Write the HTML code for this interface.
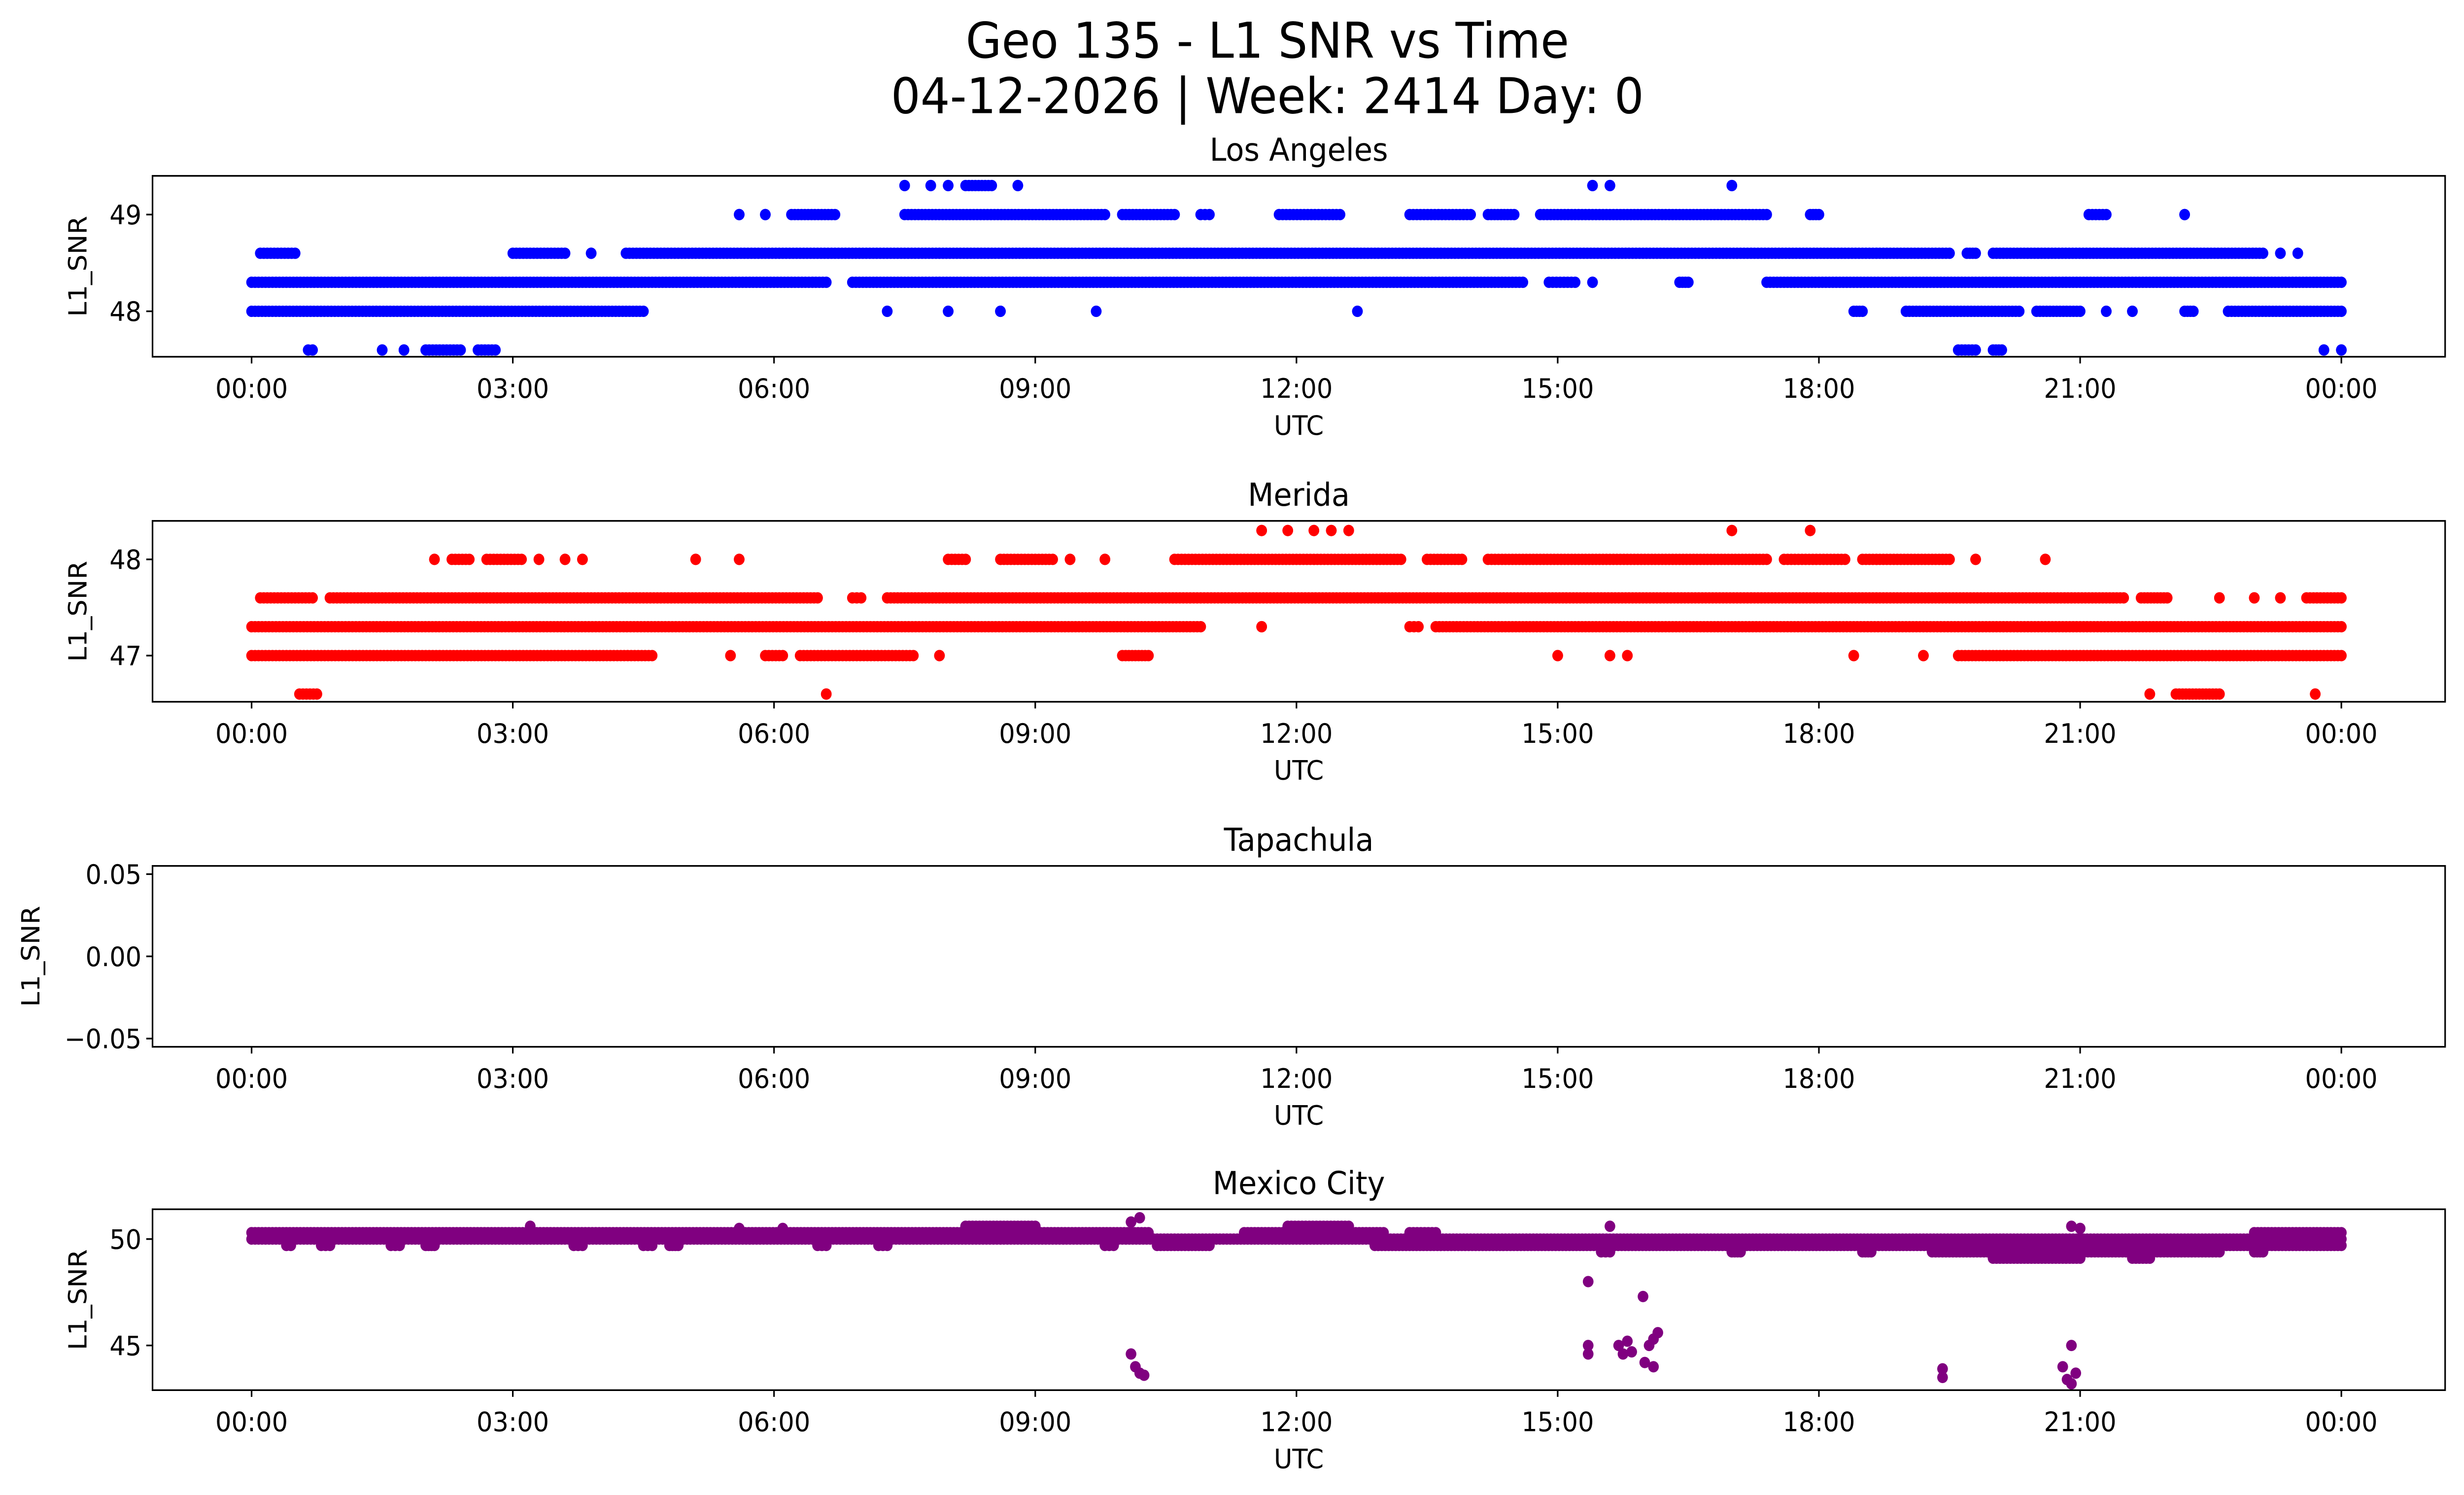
<!DOCTYPE html>
<html><head><meta charset="utf-8">
<style>html,body{margin:0;padding:0;background:#fff;width:100%;height:100%;overflow:hidden}svg{display:block;width:100vw;height:100vh}text{font-family:"DejaVu Sans","Liberation Sans",sans-serif;fill:#000}</style>
</head><body>
<svg id="fig" xmlns="http://www.w3.org/2000/svg" viewBox="0 0 1567 892.6" preserveAspectRatio="none">
<rect x="0" y="0" width="1567" height="892.6" fill="#fff"/>
<text x="806" y="34.4" font-size="29.5" text-anchor="middle">Geo 135 - L1 SNR vs Time</text>
<text x="806" y="67.5" font-size="29.5" text-anchor="middle">04-12-2026 | Week: 2414 Day: 0</text>
</svg>
<script>
// ---- data (hours UTC) ----
const xTickLabels = ["00:00","03:00","06:00","09:00","12:00","15:00","18:00","21:00","00:00"];
const xTickHours = [0,3,6,9,12,15,18,21,24];

const laLevels = [49.3,49.0,48.6,48.3,48.0,47.6];
const la493 = [[7.5,7.5],[7.8,7.8],[8.0,8.0],[8.2,8.5],[8.8,8.8],[15.4,15.4],[15.6,15.6],[17.0,17.0]];
const la490 = [[5.6,5.6],[5.9,5.9],[6.2,6.7],[7.5,9.8],[10.0,10.6],[10.9,11.0],[11.8,12.5],[13.3,14.0],[14.2,14.5],[14.8,17.4],[17.9,18.0],[21.1,21.3],[22.2,22.2]];
const la486 = [[0.1,0.5],[3.0,3.6],[3.9,3.9],[4.3,19.5],[19.7,19.8],[20.0,23.1],[23.3,23.3],[23.5,23.5]];
const la483 = [[0,6.6],[6.9,14.6],[14.9,15.2],[15.4,15.4],[16.4,16.5],[17.4,24]];
const la480 = [[0,4.5],[7.3,7.3],[8.0,8.0],[8.6,8.6],[9.7,9.7],[12.7,12.7],[18.4,18.5],[19.0,20.3],[20.5,21.0],[21.3,21.3],[21.6,21.6],[22.2,22.3],[22.7,24]];
const la476 = [[0.65,0.7],[1.5,1.5],[1.75,1.75],[2.0,2.4],[2.6,2.8],[19.6,19.8],[20.0,20.1],[23.8,23.8],[24,24]];
const laTicks = [48,49];

const meLevels = [48.3,48.0,47.6,47.3,47.0,46.6];
const me483 = [[11.6,11.6],[11.9,11.9],[12.2,12.2],[12.4,12.4],[12.6,12.6],[17.0,17.0],[17.9,17.9]];
const me480 = [[2.1,2.1],[2.3,2.5],[2.7,3.1],[3.3,3.3],[3.6,3.6],[3.8,3.8],[5.1,5.1],[5.6,5.6],[8.0,8.2],[8.6,9.2],[9.4,9.4],[9.8,9.8],[10.6,13.2],[13.5,13.9],[14.2,17.4],[17.6,18.3],[18.5,19.5],[19.8,19.8],[20.6,20.6]];
const me476 = [[0.1,0.7],[0.9,6.5],[6.9,7.0],[7.3,21.5],[21.7,22.0],[22.6,22.6],[23.0,23.0],[23.3,23.3],[23.6,24]];
const me473 = [[0,10.9],[11.6,11.6],[13.3,13.4],[13.6,24]];
const me470 = [[0,4.6],[5.5,5.5],[5.9,6.1],[6.3,7.6],[7.9,7.9],[10.0,10.3],[15.0,15.0],[15.6,15.6],[15.8,15.8],[18.4,18.4],[19.2,19.2],[19.6,24]];
const me466 = [[0.55,0.75],[6.6,6.6],[21.8,21.8],[22.1,22.6],[23.7,23.7]];
const meTicks = [47,48];

const tpTicks = [0.05,0,-0.05];
const tpTickLabels = ["0.05","0.00","\u22120.05"];

const mcLevels = [50.6,50.3,50.0,49.7,49.4,49.1];
const mc506 = [[8.2,9.0],[11.9,12.6]];
const mc503 = [[0,10.3],[11.4,13.0],[13.3,13.6],[23.0,24]];
const mc500 = [[0,24]];
const mc497 = [[0.4,0.45],[0.8,0.9],[1.6,1.7],[2.0,2.1],[3.7,3.8],[4.5,4.6],[4.8,4.9],[6.5,6.6],[7.2,7.3],[9.8,9.9],[10.4,11.0],[12.9,24]];
const mc494 = [[15.5,15.6],[17.0,17.1],[18.5,18.6],[19.3,22.6],[23.0,23.1]];
const mc491 = [[20.0,21.0],[21.6,21.8]];
const mcPointT = [3.2,5.6,6.1,10.1,10.2,15.6,20.9,21.0,10.1,10.15,10.2,10.25,15.35,15.35,15.35,15.7,15.75,15.8,15.85,15.98,16.0,16.05,16.1,16.1,16.15,19.42,19.42,20.8,20.85,20.9,20.9,20.95];
const mcPointV = [50.6,50.5,50.5,50.8,51.0,50.6,50.6,50.5,44.6,44.0,43.7,43.6,48.0,45.0,44.6,45.0,44.6,45.2,44.7,47.3,44.2,45.0,45.3,44.0,45.6,43.9,43.5,44.0,43.4,45.0,43.2,43.7];
const mcTicks = [45,50];

// ---- layout ----
const svg = document.getElementById('fig');
const NS = 'http://www.w3.org/2000/svg';
const X0 = 97, X1 = 1555, XH0 = 160, XH1 = 1489;
const xs = h => XH0 + (XH1 - XH0) * h / 24;
const R = 3.4;

function mk(tag, attrs, parent){const e=document.createElementNS(NS,tag);for(const k in attrs)e.setAttribute(k,attrs[k]);(parent||svg).appendChild(e);return e;}

function panel(cfg){
  const {top, bot, ymin, ymax, title, name, ylabelX} = cfg;
  const g = mk('g',{});
  
  
  const ys = v => bot - (v - ymin) / (ymax - ymin) * (bot - top);
  const pg = mk('g',{fill:cfg.color},g);
  
  
  (cfg.levels||[]).forEach((lv, i) => {
    cfg.runs[i].forEach(([s,e]) => {
      const n = Math.max(1, Math.round((e - s) / 0.04));
      for (let k = 0; k <= n; k++) {
        const t = s + (e - s) * k / n;
        const c = mk('circle',{cx:xs(t).toFixed(2),cy:ys(lv).toFixed(2),r:R},pg);
        
        
      }
    });
  });
  (cfg.ptT||[]).forEach((t,i)=>{
    const c = mk('circle',{cx:xs(t).toFixed(2),cy:ys(cfg.ptV[i]).toFixed(2),r:R},pg);
    
    
  });
  const fr = mk('rect',{x:X0,y:top,width:X1-X0,height:bot-top,fill:'none',stroke:'#000','stroke-width':1},g);
  
  
  xTickHours.forEach((h,i)=>{
    const x = xs(h);
    mk('line',{x1:x,x2:x,y1:bot,y2:bot+4,stroke:'#000','stroke-width':1},g);
    const t = mk('text',{x:x,y:bot+24.5,'font-size':16,'text-anchor':'middle'},g);
    t.textContent = xTickLabels[i];
    
    
  });
  cfg.yTicks.forEach((v,i)=>{
    const y = ys(v);
    mk('line',{x1:X0-4,x2:X0,y1:y,y2:y,stroke:'#000','stroke-width':1},g);
    const t = mk('text',{x:X0-7,y:y+5.8,'font-size':16,'text-anchor':'end'},g);
    t.textContent = cfg.yTickLabels ? cfg.yTickLabels[i] : String(v);
    
    
  });
  const xl = mk('text',{x:(X0+X1)/2,y:bot+46.5,'font-size':16,'text-anchor':'middle'},g);
  xl.textContent = 'UTC';
  
  
  const cy = (top+bot)/2;
  const yl = mk('text',{x:ylabelX,y:cy,'font-size':16,'text-anchor':'middle',transform:`rotate(-90 ${ylabelX} ${cy})`},g);
  yl.textContent = 'L1_SNR';
  
  
  const tt = mk('text',{x:(X0+X1)/2,y:top-9,'font-size':19,'text-anchor':'middle'},g);
  tt.textContent = title;
  
  
}

panel({top:105,bot:213,ymin:47.53,ymax:49.4,title:'Los Angeles',name:'los-angeles',color:'#0000ff',ylabelX:55,
  levels:laLevels,runs:[la493,la490,la486,la483,la480,la476],yTicks:laTicks});
panel({top:311,bot:419,ymin:46.52,ymax:48.4,title:'Merida',name:'merida',color:'#ff0000',ylabelX:55,
  levels:meLevels,runs:[me483,me480,me476,me473,me470,me466],yTicks:meTicks});
panel({top:517,bot:625,ymin:-0.055,ymax:0.055,title:'Tapachula',name:'tapachula',color:'#0000ff',ylabelX:25,
  yTicks:tpTicks,yTickLabels:tpTickLabels});
panel({top:722,bot:830,ymin:42.9,ymax:51.4,title:'Mexico City',name:'mexico-city',color:'#800080',ylabelX:55,
  levels:mcLevels,runs:[mc506,mc503,mc500,mc497,mc494,mc491],ptT:mcPointT,ptV:mcPointV,yTicks:mcTicks});
</script>
</body></html>
